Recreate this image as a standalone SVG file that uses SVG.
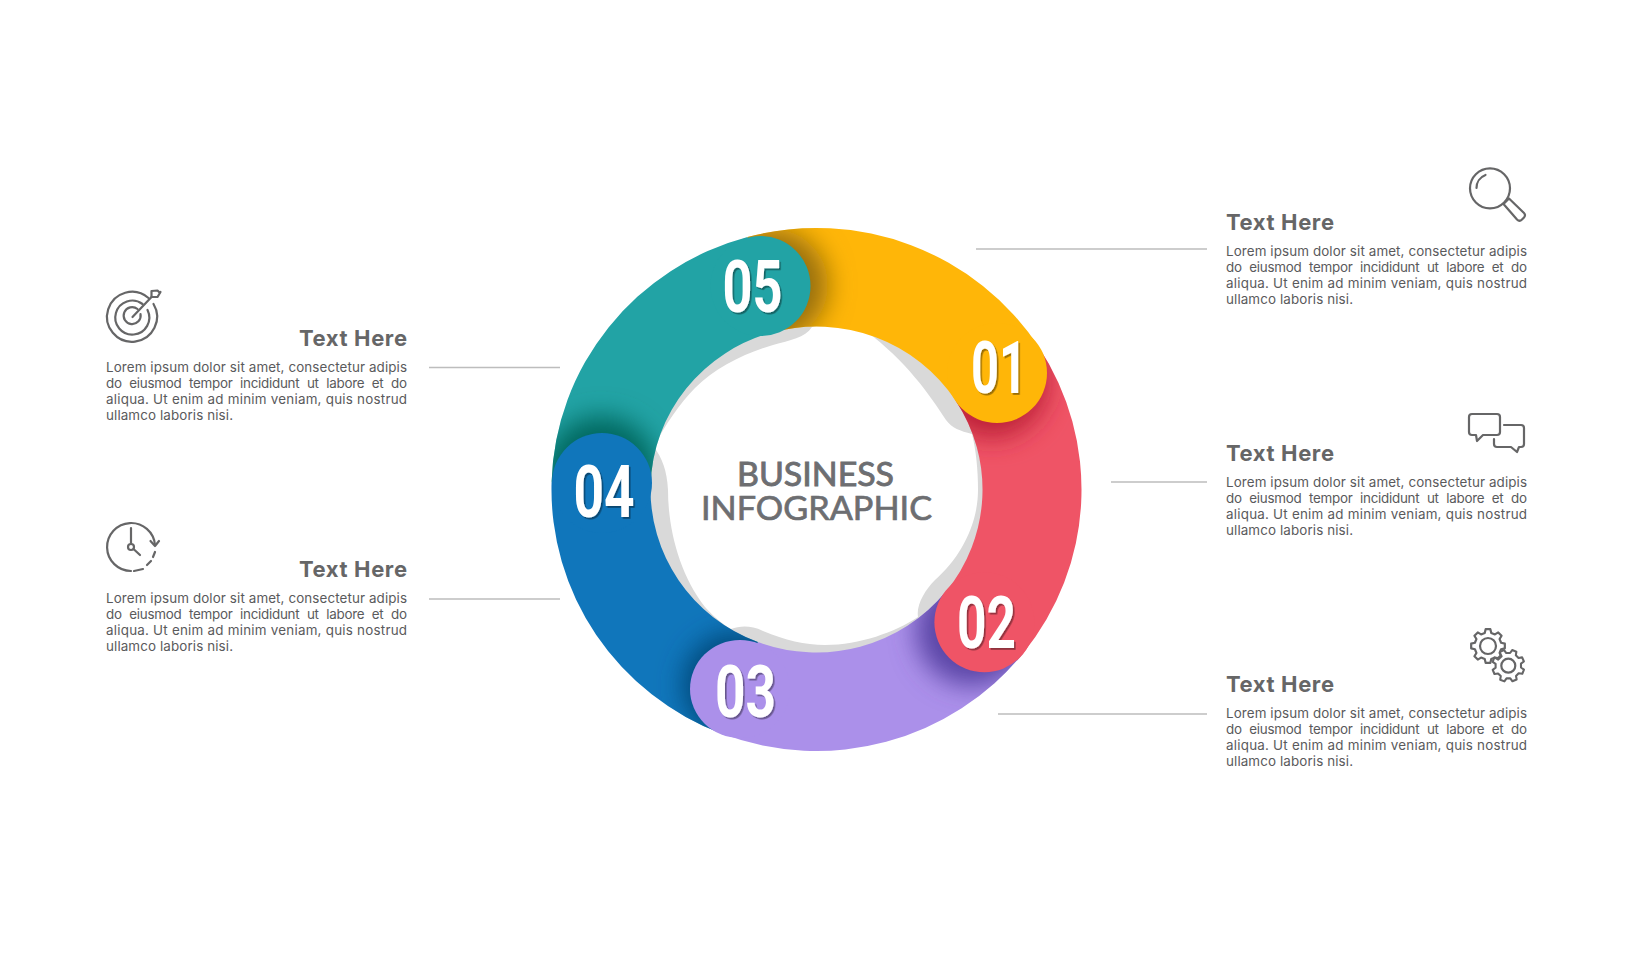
<svg xmlns="http://www.w3.org/2000/svg" xmlns:xlink="http://www.w3.org/1999/xlink" width="1633" height="980" viewBox="0 0 1633 980">
<style>
.t{font-family:"Inter","Liberation Sans",sans-serif;font-size:22px;font-weight:700;fill:#666667}
.b{font-family:"Inter","Liberation Sans",sans-serif;font-size:13.4px;font-weight:400;fill:#5a5a5c}
.n{font-family:"Roboto","Liberation Sans",sans-serif;font-size:73px;font-weight:700;fill:#fff;filter:url(#ds)}
.c{font-family:"Lato","Liberation Sans",sans-serif;font-size:33px;fill:#6d6e71;stroke:#6d6e71}
.ln{stroke:#bdbdbd;stroke-width:1.6;fill:none}
.ic{fill:none;stroke:#666667;stroke-width:2.2;stroke-linecap:round;stroke-linejoin:round}
.sh{filter:url(#bl)}
</style>
<defs>
<filter id="bl" x="-60%" y="-60%" width="220%" height="220%"><feGaussianBlur stdDeviation="13"/></filter>
<filter id="ds" x="-10%" y="-10%" width="125%" height="125%"><feDropShadow dx="1.6" dy="1.8" stdDeviation="0.5" flood-color="#000" flood-opacity="0.4"/></filter>
<path id="band1" d="M747.5 237A265 261.5 0 0 1 1038.500 346.700L955.600 400.500A166 163 0 0 0 773.300 332.100Z"/>
<path id="band2" d="M1038.500 346.700A265 261.5 0 0 1 1023 653.400L945.900 591.600A166 163 0 0 0 955.600 400.500Z"/>
<path id="band3" d="M1023 653.400A265 261.5 0 0 1 722.800 734.100L757.800 642A166 163 0 0 0 945.900 591.600Z"/>
<path id="band4" d="M722.800 734.100A265 261.5 0 0 1 551.600 481.700L650.600 484.700A166 163 0 0 0 757.800 642Z"/>
<path id="band5" d="M551.600 481.700A265 261.5 0 0 1 747.500 237L773.300 332.100A166 163 0 0 0 650.600 484.700Z"/>
<clipPath id="cb1"><use xlink:href="#band1"/></clipPath>
<clipPath id="cb2"><use xlink:href="#band2"/></clipPath>
<clipPath id="cb3"><use xlink:href="#band3"/></clipPath>
<clipPath id="cb4"><use xlink:href="#band4"/></clipPath>
<clipPath id="cb5"><use xlink:href="#band5"/></clipPath>
<path id="gear" d="M13.1-3.27L16.83-2.37 16.83 2.37 13.1 3.27 11.58 6.95 13.58 10.22 10.22 13.58 6.95 11.58 3.27 13.1 2.37 16.83-2.37 16.83-3.27 13.1-6.95 11.58-10.22 13.58-13.58 10.22-11.58 6.95-13.1 3.27-16.83 2.37-16.83-2.37-13.1-3.27-11.58-6.95-13.58-10.22-10.22-13.58-6.95-11.58-3.27-13.1-2.37-16.83 2.37-16.83 3.27-13.1 6.95-11.58 10.22-13.58 13.58-10.22 11.58-6.95Z"/>
</defs>
<rect width="1633" height="980" fill="#fff"/>
<g id="hub">
<ellipse cx="816.5" cy="489.5" rx="175" ry="172" fill="#d9d9d9"/>
<path fill="#fff" d="M812 327C805 338 790 340 773 345C745 353 715 368 695 388C680 403 665 425 654 447C662 458 667 470 668 490C668 530 680 575 705 607C715 618 725 626 731 629C740 626 750 625 763 631C785 640 805 645 825 645C860 645 895 632 918 617C916 605 925 590 935 580C960 558 978 525 978 490C978 470 976 450 972 434C960 431 952 428 946 420C930 395 905 360 867 332C850 320 830 318 812 327Z"/>
</g>
<g id="bands">
<use xlink:href="#band1" fill="#ffb608"/>
<use xlink:href="#band2" fill="#ef5466"/>
<use xlink:href="#band3" fill="#ab90ea"/>
<use xlink:href="#band4" fill="#1076bb"/>
<use xlink:href="#band5" fill="#22a3a5"/>
<g clip-path="url(#cb1)"><ellipse class="sh" cx="772" cy="285" rx="56" ry="56" fill="#98700c"/></g>
<g clip-path="url(#cb2)"><ellipse class="sh" cx="992" cy="382" rx="56" ry="56" fill="#bd2238"/></g>
<g clip-path="url(#cb3)"><ellipse class="sh" cx="972" cy="630" rx="56" ry="56" fill="#5a44a6"/></g>
<g clip-path="url(#cb4)"><ellipse class="sh" cx="735" cy="685" rx="52" ry="52" fill="#054a7a"/></g>
<g clip-path="url(#cb5)"><ellipse class="sh" cx="601" cy="472" rx="56" ry="56" fill="#06685f"/></g>
</g>
<g id="node-01"><ellipse cx="997" cy="373" rx="50" ry="50" fill="#ffb608"/><text class="n" x="971" y="392.500" textLength="56" lengthAdjust="spacingAndGlyphs">01</text></g>
<g id="node-02"><ellipse cx="984.4" cy="622.3" rx="50" ry="50" fill="#ef5466"/><text class="n" x="957" y="647.5" textLength="59" lengthAdjust="spacingAndGlyphs">02</text></g>
<g id="node-03"><ellipse cx="740" cy="689" rx="50" ry="49" fill="#ab90ea"/><text class="n" x="715" y="717" textLength="61" lengthAdjust="spacingAndGlyphs">03</text></g>
<g id="node-04"><ellipse cx="602" cy="483" rx="50" ry="50" fill="#1076bb"/><text class="n" x="573.5" y="516.500" textLength="61" lengthAdjust="spacingAndGlyphs">04</text></g>
<g id="node-05"><ellipse cx="760.5" cy="286" rx="50" ry="50" fill="#22a3a5"/><text class="n" x="722.5" y="312" textLength="60" lengthAdjust="spacingAndGlyphs">05</text></g>
<g id="center-title">
<text class="c" x="737" y="486" textLength="157" stroke-width=".9" lengthAdjust="spacingAndGlyphs">BUSINESS</text>
<text class="c" x="701" y="520" textLength="231" stroke-width=".7" lengthAdjust="spacingAndGlyphs">INFOGRAPHIC</text>
</g>
<g id="connectors">
<path class="ln" d="M976 249H1207"/>
<path class="ln" d="M1111 482H1207"/>
<path class="ln" d="M998 714H1207"/>
<path class="ln" d="M429 367.500H560"/>
<path class="ln" d="M429 599H560"/>
</g>
<g id="info-right-1">
<text class="t" x="1226" y="230" textLength="108">Text Here</text>
<text class="b" x="1226" y="256" textLength="301">Lorem ipsum dolor sit amet, consectetur adipis</text>
<text class="b" x="1226" y="272" textLength="301" style="word-spacing:4px">do eiusmod tempor incididunt ut labore et do</text>
<text class="b" x="1226" y="288" textLength="301">aliqua. Ut enim ad minim veniam, quis nostrud</text>
<text class="b" x="1226" y="304" textLength="127">ullamco laboris nisi.</text>
<g class="ic"><circle cx="1490" cy="188.300" r="20"/><path d="M1476.500 188A14 14 0 0 1 1485.500 175"/><path d="M1503.500 204L1509 198.500 1524 213Q1526 215 1524 217.500L1522 219.500Q1519.500 222 1517 219.500Z"/></g>
</g>
<g id="info-right-2">
<text class="t" x="1226" y="460.5" textLength="108">Text Here</text>
<text class="b" x="1226" y="486.5" textLength="301">Lorem ipsum dolor sit amet, consectetur adipis</text>
<text class="b" x="1226" y="502.5" textLength="301" style="word-spacing:4px">do eiusmod tempor incididunt ut labore et do</text>
<text class="b" x="1226" y="518.5" textLength="301">aliqua. Ut enim ad minim veniam, quis nostrud</text>
<text class="b" x="1226" y="534.5" textLength="127">ullamco laboris nisi.</text>
<g class="ic"><path d="M1472 414H1497Q1500 414 1500 417V432Q1500 435 1497 435H1483L1477 441 1476 435H1472Q1469 435 1469 432V417Q1469 414 1472 414Z"/><path d="M1504 425H1521Q1524 425 1524 428V444Q1524 447 1521 447H1519L1517 452 1511 447H1497Q1494 447 1494 444V439"/></g>
</g>
<g id="info-right-3">
<text class="t" x="1226" y="691.5" textLength="108">Text Here</text>
<text class="b" x="1226" y="717.5" textLength="301">Lorem ipsum dolor sit amet, consectetur adipis</text>
<text class="b" x="1226" y="733.5" textLength="301" style="word-spacing:4px">do eiusmod tempor incididunt ut labore et do</text>
<text class="b" x="1226" y="749.5" textLength="301">aliqua. Ut enim ad minim veniam, quis nostrud</text>
<text class="b" x="1226" y="765.5" textLength="127">ullamco laboris nisi.</text>
<g class="ic"><use xlink:href="#gear" transform="translate(1488 646)"/><circle cx="1488" cy="646" r="8"/><use xlink:href="#gear" transform="translate(1508.3 665.7) rotate(22) scale(.95)"/><circle cx="1508.3" cy="665.7" r="7"/></g>
</g>
<g id="info-left-1">
<text class="t" x="299" y="345.500" textLength="108">Text Here</text>
<text class="b" x="106" y="371.500" textLength="301">Lorem ipsum dolor sit amet, consectetur adipis</text>
<text class="b" x="106" y="387.500" textLength="301" style="word-spacing:4px">do eiusmod tempor incididunt ut labore et do</text>
<text class="b" x="106" y="403.500" textLength="301">aliqua. Ut enim ad minim veniam, quis nostrud</text>
<text class="b" x="106" y="419.500" textLength="127">ullamco laboris nisi.</text>
<g class="ic" transform="translate(1.5 0)"><path d="M147 298A25 25 0 1 0 152 304"/><path d="M141 304A17 17 0 1 0 146 310"/><path d="M136 309A8.5 8.5 0 1 0 139 314"/><path d="M131 317L150 297"/><path d="M150 297V291L156 290.500 158.500 293M150 297H156L159 292"/></g>
</g>
<g id="info-left-2">
<text class="t" x="299" y="576.500" textLength="108">Text Here</text>
<text class="b" x="106" y="602.500" textLength="301">Lorem ipsum dolor sit amet, consectetur adipis</text>
<text class="b" x="106" y="618.500" textLength="301" style="word-spacing:4px">do eiusmod tempor incididunt ut labore et do</text>
<text class="b" x="106" y="634.500" textLength="301">aliqua. Ut enim ad minim veniam, quis nostrud</text>
<text class="b" x="106" y="650.500" textLength="127">ullamco laboris nisi.</text>
<g class="ic"><path d="M155 545A24 24 0 1 0 131 571"/><path d="M134 571L143 569M147 565L151 561M153 557L155 552"/><path d="M131 528V544"/><circle cx="131" cy="547" r="3"/><path d="M133.500 549L140 555"/><path d="M150.500 541L155 546 159 541"/></g>
</g>
</svg>
